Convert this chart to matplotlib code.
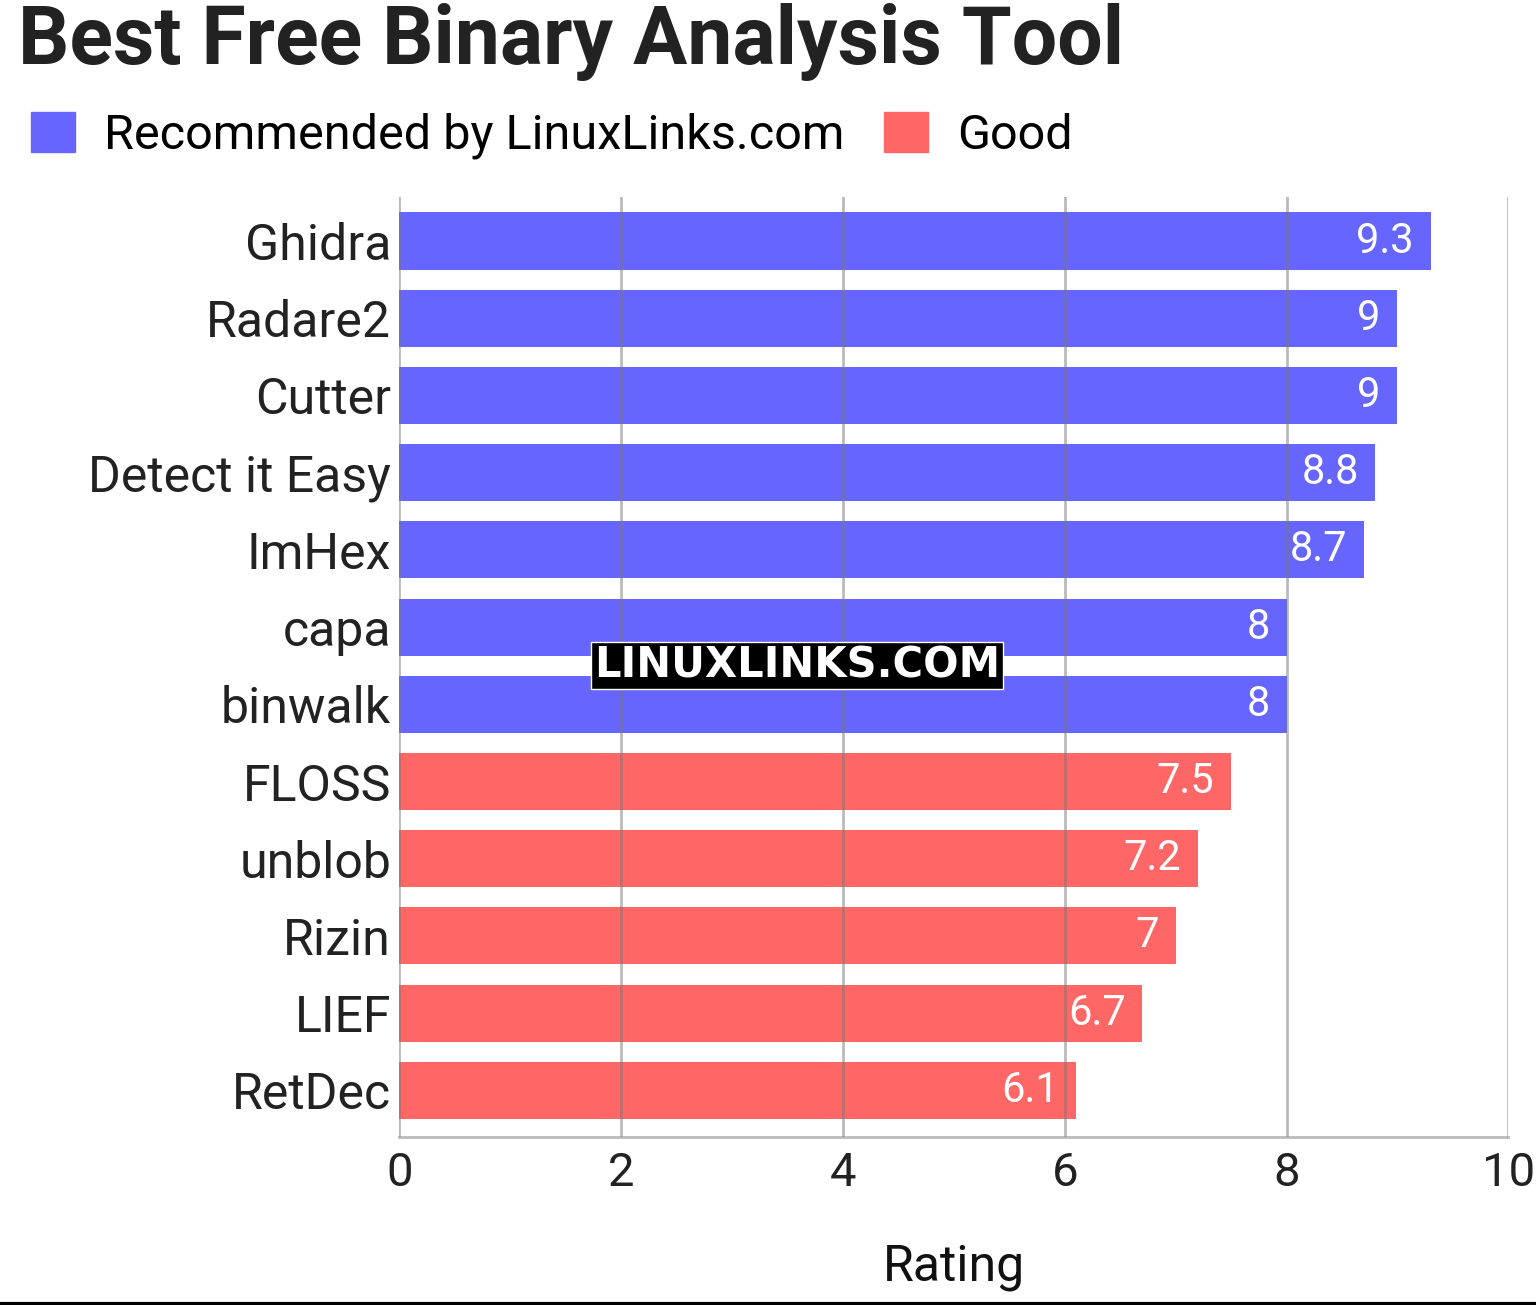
import matplotlib
matplotlib.use("Agg")
import matplotlib.pyplot as plt
from matplotlib.patches import Patch

tools = ["Ghidra","Radare2","Cutter","Detect it Easy","ImHex","capa","binwalk","FLOSS","unblob","Rizin","LIEF","RetDec"]
ratings = [9.3,9,9,8.8,8.7,8,8,7.5,7.2,7,6.7,6.1]
groups = ["Recommended by LinuxLinks.com"]*7 + ["Good"]*5
colors = {"Recommended by LinuxLinks.com":"#6666ff","Good":"#ff6666"}

plt.rcParams['font.family'] = ['Roboto','DejaVu Sans']
fig = plt.figure(figsize=(15.36,13.05), dpi=100)
ax = fig.add_axes([0.26,0.129,0.722,0.72])
y = list(range(len(tools)))
ax.barh(y, ratings, height=0.74, color=[colors[g] for g in groups], zorder=1)
for yi, v in zip(y, ratings):
    ax.text(v-0.15, yi, f"{v:g}", ha='right', va='center', color='white', fontsize=30, zorder=3)
ax.set_ylim(11.6, -0.57)
ax.set_xlim(0,10)
ax.set_yticks(y); ax.set_yticklabels(tools, fontsize=36, color='#222222')
ax.set_xticks([0,2,4,6,8,10]); ax.tick_params(axis='x', labelsize=34, colors='#222222', length=0, pad=10)
ax.tick_params(axis='y', length=0, pad=6)
ax.grid(axis='x', color='#777777', alpha=0.5, linewidth=2, zorder=2)
ax.set_axisbelow(False)
for s in ['top','right','left']: ax.spines[s].set_visible(False)
ax.spines['bottom'].set_color('#bbbbbb'); ax.spines['bottom'].set_linewidth(2)
ax.set_xlabel("Rating", fontsize=36, color='#111111', labelpad=35)
fig.text(0.012,0.968,"Best Free Binary Analysis Tool", fontsize=58, fontweight='bold', color='#222222', va='center')
handles = [Patch(color=colors[k]) for k in colors]
fig.legend(handles, list(colors), loc='center left', bbox_to_anchor=(-0.008,0.896), ncol=2, frameon=False,
           fontsize=35, handlelength=0.9, handleheight=0.9, columnspacing=0.8, handletextpad=0.6)
fig.text(0.519,0.49,"LINUXLINKS.COM", fontsize=30, fontweight='bold', color='white', ha='center', va='center', family='DejaVu Sans',
         bbox=dict(facecolor='black', edgecolor='white', pad=2, linewidth=1))
fig.add_artist(plt.Line2D([0,1],[0.001,0.001], color='black', linewidth=3))
fig.savefig("out.png", dpi=100)
